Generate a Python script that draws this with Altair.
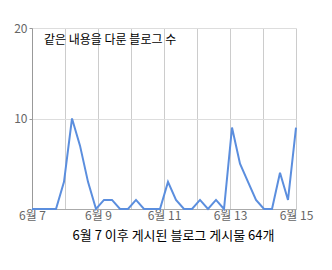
import altair as alt
import pandas as pd

# 34 evenly spaced samples from June 7 to June 15
counts = [0, 0, 0, 0, 3, 10, 7, 3, 0, 1, 1, 0, 0, 1, 0, 0, 0, 3, 1, 0,
          0, 1, 0, 1, 0, 9, 5, 3, 1, 0, 0, 4, 1, 9]
start = "2012-06-07T00:00:00"
end = "2012-06-15T00:00:00"
times = pd.date_range(start, end, periods=len(counts))
day_ticks = [alt.DateTime(year=2012, month=6, date=d) for d in range(7, 16)]
y_ticks = [10, 20]
legend_text = "같은 내용을 다룬 블로그 수"
x_title = "6월 7 이후 게시된 블로그 게시물 64개"

df = pd.DataFrame({"t": [t.strftime("%Y-%m-%dT%H:%M:%S") for t in times], "n": counts})

FONT = "Noto Sans CJK KR"

line = alt.Chart(df).mark_line(color="#5b8ede", strokeWidth=2).encode(
    x=alt.X(
        "t:T",
        scale=alt.Scale(domain=[day_ticks[0], day_ticks[-1]]),
        axis=alt.Axis(
            values=day_ticks,
            format="%-m월 %-d",
            labelExpr="date(datum.value) % 2 == 1 ? datum.label : ''",
            labelFlush=False,
            labelColor="#666666",
            labelFontSize=12,
            labelFont=FONT,
            labelPadding=1,
            ticks=False,
            grid=True,
            gridColor="#cccccc",
            domain=True,
            domainColor="#aaaaaa",
            title=x_title,
            titleFont=FONT,
            titleFontSize=13,
            titleFontWeight="normal",
            titleColor="#000000",
            titleX=141,
            titleY=20,
            titleAlign="center",
        ),
    ),
    y=alt.Y(
        "n:Q",
        scale=alt.Scale(domain=[0, 20], nice=False),
        axis=alt.Axis(
            values=y_ticks,
            labelColor="#666666",
            labelFontSize=12,
            labelFont=FONT,
            labelPadding=2,
            tickSize=3,
            tickColor="#999999",
            domainColor="#999999",
            grid=True,
            gridColor="#dddddd",
            title=None,
        ),
    ),
)

label = alt.Chart(pd.DataFrame({"txt": [legend_text]})).mark_text(
    align="left", baseline="middle", font=FONT, fontSize=12, color="#000000"
).encode(x=alt.value(12), y=alt.value(12), text="txt:N")

chart = alt.layer(line, label).properties(
    width=264,
    height=181,
    autosize=alt.AutoSizeParams(type="none"),
    padding={"left": 32, "top": 28, "right": 36, "bottom": 61},
).configure_view(stroke=None)

chart.save("out.html", embed_options={"renderer": "svg", "actions": False})
